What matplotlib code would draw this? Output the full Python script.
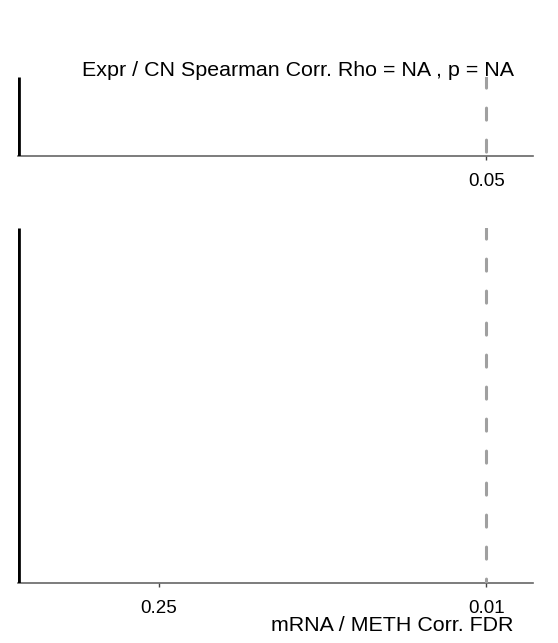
import matplotlib
matplotlib.use("Agg")
import matplotlib.pyplot as plt
import numpy as np

plt.rcParams['font.family'] = ['Liberation Sans', 'DejaVu Sans']
plt.rcParams['lines.scale_dashes'] = False

# data: -log10 of the values (NA rho -> nothing significant, bar at 0)
cn_title = "Expr / CN Spearman Corr. Rho = NA , p = NA"
cn_value = [0.0]          # -log10(p)
cn_threshold = 0.05
meth_value = [0.0]        # -log10(FDR)
meth_threshold = 0.01
meth_ticks = [0.25, 0.01]
meth_xlabel = "mRNA / METH Corr. FDR"

fig = plt.figure(figsize=(5.58, 6.43), dpi=100)
ax_top = fig.add_axes([0.0323, 0.7574, 0.923, 0.1229])
ax_bot = fig.add_axes([0.0323, 0.0933, 0.923, 0.552])

# dash pattern in points (px * 0.72)
dash = (1.0, (12 * 0.72, 20 * 0.72))


def style(ax, thr, ticks):
    t = -np.log10(thr)
    ax.set_xlim(0, t * 1.1)
    ax.set_ylim(0, 1)
    for s in ['top', 'right', 'left']:
        ax.spines[s].set_visible(False)
    ax.spines['bottom'].set_color('#666666')
    ax.spines['bottom'].set_linewidth(1.2)
    ax.set_yticks([])
    ax.set_xticks([-np.log10(v) for v in ticks])
    ax.set_xticklabels([str(v) for v in ticks], fontsize=13.5)
    ax.tick_params(axis='x', length=3, width=1, color='#444444', pad=9)
    ax.plot([t, t], [1, 0], color='#a0a0a0', lw=2.2, linestyle=dash,
            dash_capstyle='round', zorder=3)


style(ax_top, cn_threshold, [cn_threshold])
style(ax_bot, meth_threshold, meth_ticks)

ax_top.vlines(cn_value, 0, 1, color='black', lw=3.4, zorder=4)
ax_bot.vlines(meth_value, 0, 1, color='black', lw=3.4, zorder=4)

fig.text(514 / 558, 1 - 70 / 643, cn_title, fontsize=15.4, ha='right', va='center')
ax_bot.set_xlabel(meth_xlabel, fontsize=15.4)
ax_bot.xaxis.set_label_coords(0.961, -0.121, transform=ax_bot.transAxes)
ax_bot.xaxis.label.set_horizontalalignment('right')
ax_bot.xaxis.label.set_verticalalignment('center')

fig.savefig("out.png", dpi=100)
